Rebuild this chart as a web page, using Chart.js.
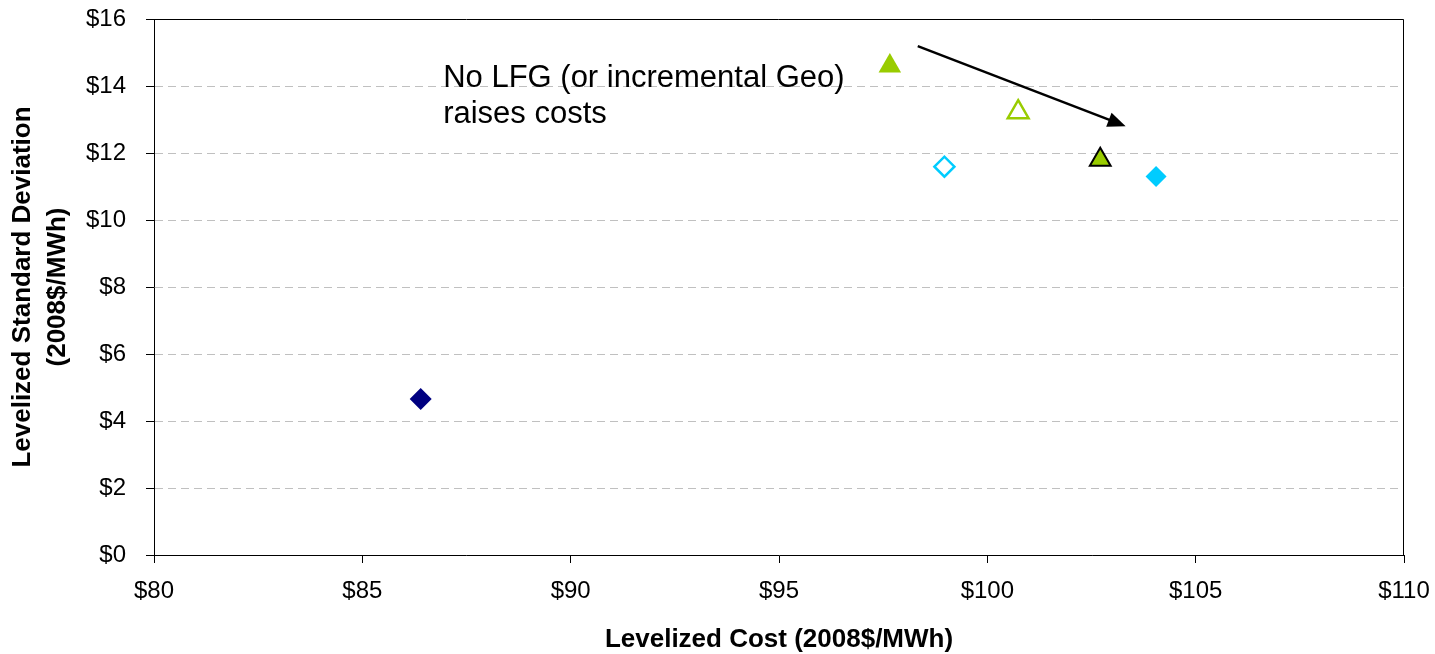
<!DOCTYPE html>
<html>
<head>
<meta charset="utf-8">
<script src="https://cdn.jsdelivr.net/npm/chart.js@4.4.1/dist/chart.umd.min.js"></script>
<style>
  html, body { margin: 0; padding: 0; background: #ffffff; }
  #wrap { width: 1435px; height: 654px; position: relative; }
</style>
</head>
<body>
<div id="wrap"><canvas id="chart"></canvas></div>
<script>
// ---- data ----
const pointNames = ['Portfolio 1', 'Portfolio 2', 'Portfolio 3', 'Portfolio 4', 'Portfolio 5', 'Portfolio 6'];
const levelizedCost = [86.40, 97.66, 100.74, 98.97, 102.71, 104.05];   // $/MWh (x)
const levelizedStdDev = [4.655, 14.60, 13.22, 11.59, 11.80, 11.30];    // $/MWh (y)
const xTickValues = [80, 85, 90, 95, 100, 105, 110];
const yTickValues = [0, 2, 4, 6, 8, 10, 12, 14, 16];
const noteLines = ['No LFG (or incremental Geo)', 'raises costs'];
const noteAnchorX = 86.94;
const noteAnchorY = [13.97, 12.89];
const arrowStart = [98.33, 15.19];
const arrowEnd = [103.32, 12.80];

// ---- marker styles (one per point) ----
const GREEN = '#99CC00', CYAN = '#00CCFF', NAVY = '#000080';
const markerStyles = [
  { shape: 'rectRot',  r: 11,   fill: NAVY,      stroke: NAVY,  bw: 0 },
  { shape: 'triangle', r: 13,   fill: GREEN,     stroke: GREEN, bw: 0 },
  { shape: 'triangle', r: 12,   fill: '#ffffff', stroke: GREEN, bw: 2.5 },
  { shape: 'rectRot',  r: 10,   fill: '#ffffff', stroke: CYAN,  bw: 2.5 },
  { shape: 'triangle', r: 12,   fill: GREEN,     stroke: '#000000', bw: 2 },
  { shape: 'rectRot',  r: 10.5, fill: CYAN,      stroke: CYAN,  bw: 0 }
];

const FONT = "'Liberation Sans', Arial, Helvetica, sans-serif";

const datasets = pointNames.map((name, i) => ({
  label: name,
  data: [{ x: levelizedCost[i], y: levelizedStdDev[i] }],
  showLine: false,
  pointStyle: markerStyles[i].shape,
  pointRadius: markerStyles[i].r,
  pointHoverRadius: markerStyles[i].r,
  pointBackgroundColor: markerStyles[i].fill,
  pointBorderColor: markerStyles[i].stroke,
  pointBorderWidth: markerStyles[i].bw
}));

const zeroPad = s => { s.paddingLeft = 0; s.paddingRight = 0; s.paddingTop = 0; s.paddingBottom = 0; };

const framePlugin = {
  id: 'frame',
  beforeDatasetsDraw(chart) {
    const { ctx, chartArea: a } = chart;
    ctx.save();
    ctx.strokeStyle = '#000000';
    ctx.lineWidth = 1;
    ctx.beginPath();
    const t = Math.round(a.top) + 0.5, r = Math.round(a.right) - 0.5, b = Math.round(a.bottom);
    ctx.moveTo(a.left, t);
    ctx.lineTo(r, t);
    ctx.lineTo(r, b);
    ctx.stroke();
    ctx.restore();
  }
};

const notePlugin = {
  id: 'note',
  afterDatasetsDraw(chart) {
    const { ctx } = chart;
    const xs = chart.scales.x, ys = chart.scales.y;
    ctx.save();
    ctx.fillStyle = '#000000';
    ctx.font = '31px ' + FONT;
    ctx.textAlign = 'left';
    ctx.textBaseline = 'alphabetic';
    noteLines.forEach((line, i) => {
      ctx.fillText(line, xs.getPixelForValue(noteAnchorX), ys.getPixelForValue(noteAnchorY[i]));
    });
    // arrow
    const x1 = xs.getPixelForValue(arrowStart[0]), y1 = ys.getPixelForValue(arrowStart[1]);
    const x2 = xs.getPixelForValue(arrowEnd[0]), y2 = ys.getPixelForValue(arrowEnd[1]);
    const ang = Math.atan2(y2 - y1, x2 - x1);
    const headLen = 18, headHalf = 7.5;
    const bx = x2 - headLen * Math.cos(ang), by = y2 - headLen * Math.sin(ang);
    ctx.strokeStyle = '#000000';
    ctx.lineWidth = 2.5;
    ctx.beginPath();
    ctx.moveTo(x1, y1);
    ctx.lineTo(bx + 2 * Math.cos(ang), by + 2 * Math.sin(ang));
    ctx.stroke();
    ctx.beginPath();
    ctx.moveTo(x2, y2);
    ctx.lineTo(bx + headHalf * Math.sin(ang), by - headHalf * Math.cos(ang));
    ctx.lineTo(bx - headHalf * Math.sin(ang), by + headHalf * Math.cos(ang));
    ctx.closePath();
    ctx.fill();
    ctx.restore();
  }
};

new Chart(document.getElementById('chart'), {
  type: 'scatter',
  data: { datasets },
  plugins: [framePlugin, notePlugin],
  options: {
    responsive: true,
    maintainAspectRatio: false,
    animation: false,
    layout: { padding: { top: 19, right: 31, bottom: 0, left: 0 } },
    plugins: { legend: { display: false }, tooltip: { enabled: false } },
    scales: {
      x: {
        type: 'linear',
        min: 80, max: 110,
        afterBuildTicks: s => { s.ticks = xTickValues.map(v => ({ value: v })); },
        afterFit: s => { s.height = 99; zeroPad(s); },
        ticks: {
          color: '#000000',
          font: { family: FONT, size: 24 },
          padding: 14,
          maxRotation: 0,
          callback: v => '$' + v
        },
        grid: { drawOnChartArea: false, drawTicks: true, tickLength: 8, tickColor: '#000000', color: '#000000' },
        border: { display: true, color: '#000000', width: 1 },
        title: {
          display: true,
          text: 'Levelized Cost (2008$/MWh)',
          color: '#000000',
          font: { family: FONT, size: 26, weight: 'bold', lineHeight: 1.1 },
          padding: { top: 0, bottom: 0 }
        }
      },
      y: {
        type: 'linear',
        min: 0, max: 16,
        afterBuildTicks: s => { s.ticks = yTickValues.map(v => ({ value: v })); },
        afterFit: s => { s.width = 154; zeroPad(s); },
        ticks: {
          color: '#000000',
          font: { family: FONT, size: 24 },
          padding: 20,
          callback: v => '$' + v
        },
        grid: {
          color: '#c0c0c0',
          lineWidth: 1,
          drawTicks: true,
          tickLength: 8,
          tickColor: '#000000',
          tickBorderDash: [],
          tickWidth: 1
        },
        border: { display: true, color: '#000000', width: 1, dash: [8, 5] },
        title: {
          display: true,
          text: ['Levelized Standard Deviation', '(2008$/MWh)'],
          color: '#000000',
          font: { family: FONT, size: 26, weight: 'bold', lineHeight: 1.35 },
          padding: { top: 5, bottom: 0 }
        }
      }
    }
  }
});
</script>
</body>
</html>
